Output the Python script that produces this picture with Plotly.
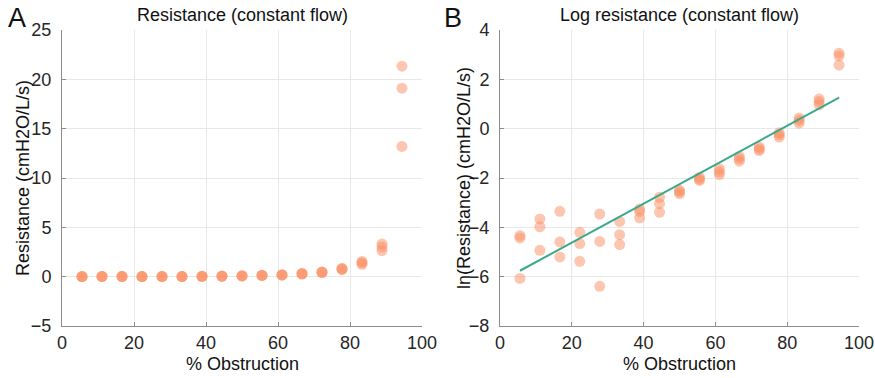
import numpy as np
import plotly.graph_objects as go

# ---- data ----
obstruction = [5.56, 11.11, 16.67, 22.22, 27.78, 33.33, 38.89, 44.44, 50.0,
               55.56, 61.11, 66.67, 72.22, 77.78, 83.33, 88.89, 94.44]
ln_res_rep1 = [-4.34, -3.66, -3.35, -4.20, -3.46, -3.76, -3.26, -2.78, -2.50,
               -1.97, -1.63, -1.12, -0.74, -0.17, 0.43, 1.20, 3.06]
ln_res_rep2 = [-4.43, -3.98, -4.59, -4.66, -4.57, -4.30, -3.36, -3.04, -2.56,
               -2.05, -1.75, -1.22, -0.82, -0.25, 0.34, 1.10, 2.95]
ln_res_rep3 = [-6.07, -4.93, -5.20, -5.38, -6.39, -4.70, -3.62, -3.39, -2.63,
               -2.10, -1.86, -1.32, -0.89, -0.34, 0.23, 0.97, 2.58]
fit_x = [5.56, 94.44]
fit_y = [-5.76, 1.26]

x_ticks = [0, 20, 40, 60, 80, 100]
yA_ticks = [-5, 0, 5, 10, 15, 20, 25]
yB_ticks = [-8, -6, -4, -2, 0, 2, 4]

xs = obstruction * 3
ln_all = ln_res_rep1 + ln_res_rep2 + ln_res_rep3
res_all = list(np.exp(ln_all))

W, H = 875, 378
PT, PB = 30, 326
LA, RA = 62, 422
LB, RB = 500, 859

def fx(px):
    return px / W

def fy(py):
    return 1 - py / H

FONT = "Liberation Sans, Arial, Helvetica, sans-serif"
MARK = dict(size=11, color="rgba(252,141,98,0.5)", line=dict(width=0))

fig = go.Figure()
fig.add_trace(go.Scatter(x=xs, y=res_all, mode="markers", marker=MARK,
                         xaxis="x", yaxis="y", showlegend=False, hoverinfo="x+y"))
fig.add_trace(go.Scatter(x=xs, y=ln_all, mode="markers", marker=MARK,
                         xaxis="x2", yaxis="y2", showlegend=False, hoverinfo="x+y"))
fig.add_trace(go.Scatter(x=fit_x, y=fit_y, mode="lines",
                         line=dict(color="#3aa98c", width=2),
                         xaxis="x2", yaxis="y2", showlegend=False))

axis_common = dict(showline=True, linecolor="#8c8c8c", linewidth=1,
                   showgrid=True, gridcolor="#e8e8e8", gridwidth=1,
                   zeroline=False, ticks="inside", ticklen=4, tickcolor="#8c8c8c",
                   tickfont=dict(family=FONT, size=18, color="#262626"),
                   mirror=False, fixedrange=True, automargin=False,
                   ticklabeloverflow="allow")

fig.update_layout(
    width=W, height=H,
    margin=dict(l=0, r=0, t=0, b=0),
    paper_bgcolor="white", plot_bgcolor="white",
    font=dict(family=FONT, color="#262626"),
    xaxis=dict(domain=[fx(LA), fx(RA)], range=[0, 100], tickvals=x_ticks,
               anchor="y", ticklabelstandoff=0, **axis_common),
    yaxis=dict(domain=[fy(PB), fy(PT)], range=[-5, 25], tickvals=yA_ticks,
               anchor="x", ticklabelstandoff=6, **axis_common),
    xaxis2=dict(domain=[fx(LB), fx(RB)], range=[0, 100], tickvals=x_ticks,
                anchor="y2", ticklabelstandoff=0, **axis_common),
    yaxis2=dict(domain=[fy(PB), fy(PT)], range=[-8, 4], tickvals=yB_ticks,
                anchor="x2", ticklabelstandoff=6, **axis_common),
)

ann = []
def text(x, y, s, size, angle=0, xanchor="center"):
    ann.append(dict(x=fx(x), y=fy(y), xref="paper", yref="paper", text=s,
                    showarrow=False, textangle=angle, xanchor=xanchor, yanchor="middle",
                    font=dict(family=FONT, size=size, color="#111111")))

text((LA + RA) / 2, 15, "Resistance (constant flow)", 18)
text((LB + RB) / 2, 15, "Log resistance (constant flow)", 18)
text((LA + RA) / 2, 364, "% Obstruction", 18)
text((LB + RB) / 2, 364, "% Obstruction", 18)
text(23, (PT + PB) / 2, "Resistance (cmH2O/L/s)", 18, angle=-90)
text(464, (PT + PB) / 2, "ln(Resistance) (cmH2O/L/s)", 18, angle=-90)
text(17, 18, "A", 27)
text(453, 18, "B", 27)
fig.update_layout(annotations=ann)

fig.write_html("out.html", config={"displayModeBar": False},
               post_script="document.body.style.margin='0';document.body.style.padding='0';")
